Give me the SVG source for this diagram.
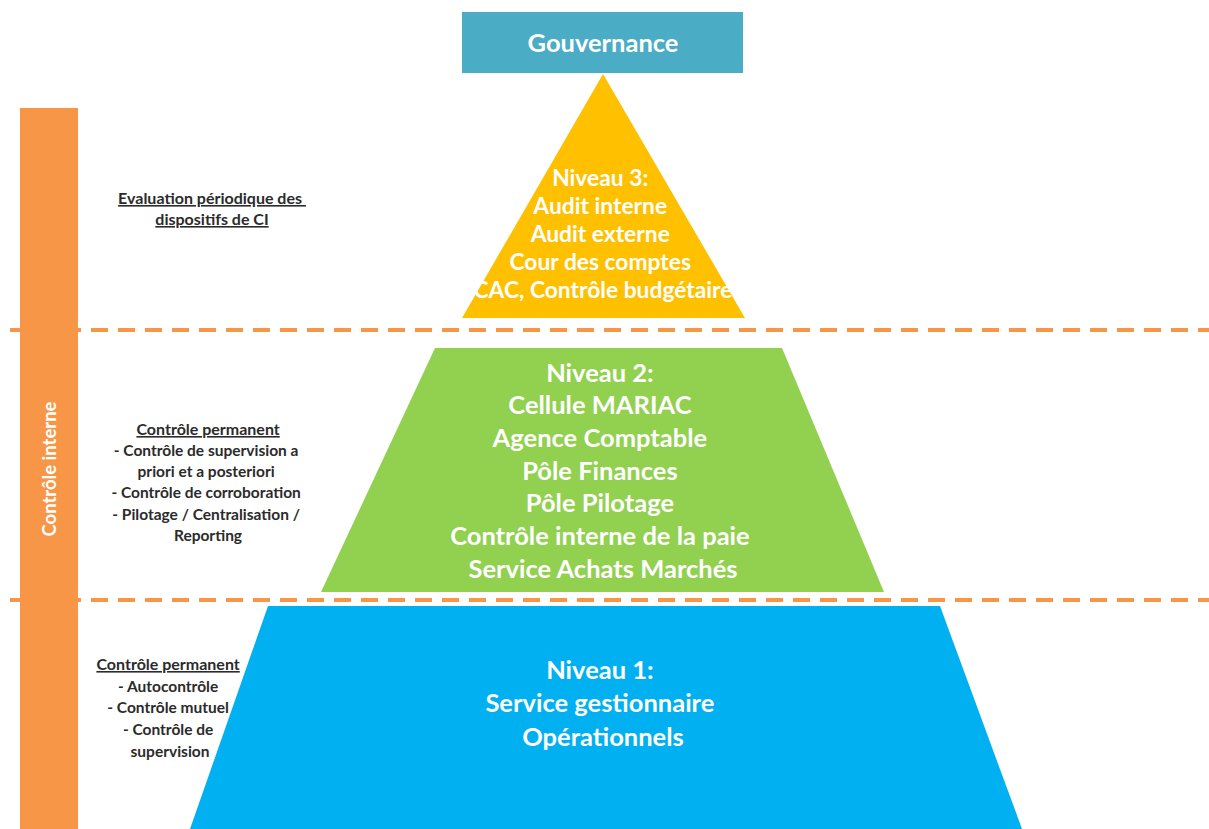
<svg xmlns="http://www.w3.org/2000/svg" width="1209" height="829" viewBox="0 0 1209 829">
  <style>
    .lvl { font-family: Lato, "Open Sans", "Liberation Sans", sans-serif; font-weight: bold; fill: #ffffff; text-anchor: middle; }
    .side { font-family: Lato, "Open Sans", "Liberation Sans", sans-serif; font-weight: bold; fill: #2b2b2b; font-size: 15.5px; text-anchor: middle; }
    .u { text-decoration: underline; font-size: 16px; }
    .dash { stroke: #F79646; stroke-width: 4; stroke-dasharray: 17 10; fill: none; }
  </style>
  <rect width="1209" height="829" fill="#ffffff"/>

  <!-- level separators -->
  <g id="connectors">
    <line class="dash" x1="10" y1="330" x2="1209" y2="330"/>
    <line class="dash" x1="10" y1="600" x2="1209" y2="600"/>
  </g>

  <!-- vertical band: internal control -->
  <g id="controle-interne">
    <rect x="20" y="108" width="58" height="721" fill="#F79646"/>
    <text class="lvl" font-size="18.5" transform="translate(55.5 469) rotate(-90)">Contrôle interne</text>
  </g>

  <g id="gouvernance">
    <rect x="462" y="12" width="281" height="61" fill="#4BACC6"/>
    <text class="lvl" x="603" y="52" font-size="25.5">Gouvernance</text>
  </g>

  <g id="niveau3">
    <polygon points="603,74 745,318 462,318" fill="#FFC000"/>
    <text class="lvl" font-size="22.8">
      <tspan x="603" y="186">Niveau 3:</tspan>
      <tspan x="603" y="214">Audit interne</tspan>
      <tspan x="603" y="242">Audit externe</tspan>
      <tspan x="603" y="270">Cour des comptes</tspan>
      <tspan x="603" y="298">CAC, Contrôle budgétaire</tspan>
    </text>
  </g>

  <g id="niveau2">
    <polygon points="435,348 782,348 884,592 321,592" fill="#92D050"/>
    <text class="lvl" font-size="25.5">
      <tspan x="603" y="382">Niveau 2:</tspan>
      <tspan x="603" y="414">Cellule MARIAC</tspan>
      <tspan x="603" y="447">Agence Comptable</tspan>
      <tspan x="603" y="480">Pôle Finances</tspan>
      <tspan x="603" y="512">Pôle Pilotage</tspan>
      <tspan x="603" y="545">Contrôle interne de la paie</tspan>
      <tspan x="603" y="578">Service Achats Marchés</tspan>
    </text>
  </g>

  <g id="niveau1">
    <polygon points="268,606 940,606 1022,829 190,829" fill="#00B0F0"/>
    <text class="lvl" font-size="25.5">
      <tspan x="603" y="679">Niveau 1:</tspan>
      <tspan x="603" y="712">Service gestionnaire</tspan>
      <tspan x="603" y="746">Opérationnels</tspan>
    </text>
  </g>

  <g id="note-niveau3">
    <text class="side u">
      <tspan x="212" y="204">Evaluation périodique des</tspan>
      <tspan x="212" y="225">dispositifs de CI</tspan>
    </text>
  </g>

  <g id="note-niveau2">
    <text class="side">
      <tspan class="u" x="210" y="435">Contrôle permanent</tspan>
      <tspan x="208" y="456">- Contrôle de supervision a</tspan>
      <tspan x="208" y="477">priori et a posteriori</tspan>
      <tspan x="208" y="498">- Contrôle de corroboration</tspan>
      <tspan x="208" y="520">- Pilotage / Centralisation /</tspan>
      <tspan x="208" y="541">Reporting</tspan>
    </text>
  </g>

  <g id="note-niveau1">
    <text class="side">
      <tspan class="u" x="170" y="670">Contrôle permanent</tspan>
      <tspan x="170" y="692">- Autocontrôle</tspan>
      <tspan x="170" y="713">- Contrôle mutuel</tspan>
      <tspan x="170" y="735">- Contrôle de</tspan>
      <tspan x="170" y="757">supervision</tspan>
    </text>
  </g>
</svg>
